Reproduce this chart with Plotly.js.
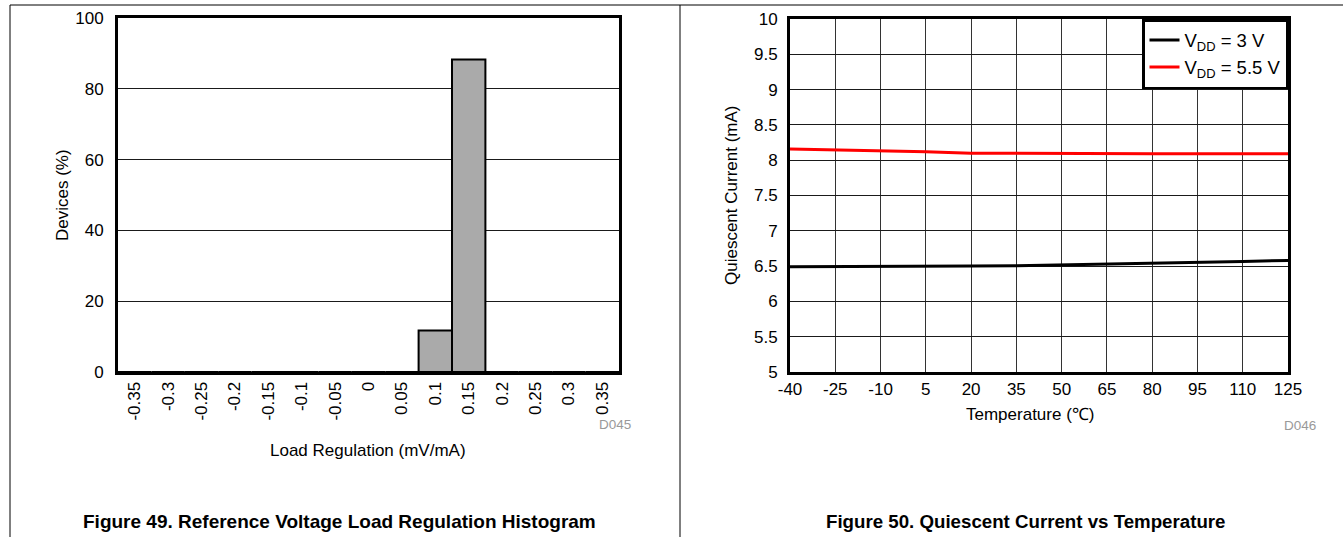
<!DOCTYPE html>
<html>
<head>
<meta charset="utf-8">
<script src="https://cdn.plot.ly/plotly-3.0.1.min.js"></script>
<style>
html,body{margin:0;padding:0;background:#fff;}
#chart{width:1343px;height:537px;}
</style>
</head>
<body>
<div id="chart"></div>
<script>
// ---- Figure 49 data: load regulation histogram ----
const loadRegBins = ["-0.35","-0.3","-0.25","-0.2","-0.15","-0.1","-0.05","0","0.05","0.1","0.15","0.2","0.25","0.3","0.35"];
const devicesPct  = [0,0,0,0,0,0,0,0,0,11.7,88.3,0,0,0,0];

// ---- Figure 50 data: quiescent current vs temperature ----
const temperatureC = [-40,-25,-10,5,20,35,50,65,80,95,110,125];
const iq_vdd3   = [6.49,6.49,6.49,6.495,6.50,6.505,6.515,6.525,6.54,6.55,6.565,6.58];
const iq_vdd5p5 = [8.16,8.15,8.14,8.12,8.10,8.095,8.09,8.09,8.09,8.09,8.09,8.09];
const tempTicks = [-40,-25,-10,5,20,35,50,65,80,95,110,125];
const tempTickLabels = ["-40","-25","-10","5","20","35","50","65","80","95","110","125"];

const W = 1343, H = 537;
const px = x => x / W;
const py = y => 1 - y / H;

const FONT = "Liberation Sans, Arial, sans-serif";
const FS = 17;

const traces = [
  {
    type: "bar", x: loadRegBins, y: devicesPct,
    xaxis: "x", yaxis: "y",
    marker: {color: "#aaaaaa", line: {color: "#000", width: 2}},
    showlegend: false
  },
  {
    type: "scatter", mode: "lines", x: temperatureC, y: iq_vdd3,
    xaxis: "x2", yaxis: "y2",
    name: "V<sub>DD</sub> = 3 V",
    line: {color: "#000", width: 3}
  },
  {
    type: "scatter", mode: "lines", x: temperatureC, y: iq_vdd5p5,
    xaxis: "x2", yaxis: "y2",
    name: "V<sub>DD</sub> = 5.5 V",
    line: {color: "#ff0000", width: 3}
  }
];

const gridCol = "#1a1a1a";
const frame = {showline: true, mirror: true, linecolor: "#000", linewidth: 3, zeroline: false};
const layout = {
  width: W, height: H,
  margin: {l:0, r:0, t:0, b:0},
  paper_bgcolor: "#fff", plot_bgcolor: "#fff",
  font: {family: FONT, size: FS, color: "#000"},
  bargap: 0,
  xaxis: Object.assign({
    domain: [px(118), px(619)], anchor: "y",
    type: "category",
    tickangle: -90, tickfont: {size: FS},
    showgrid: false, ticks: ""
  }, frame),
  xaxis3: {
    overlaying: "x", anchor: "y",
    range: [-0.5, 14.5], tickvals: [-0.5, 14.5],
    ticks: "outside", ticklen: 10, tickwidth: 1, tickcolor: "#555",
    showticklabels: false, showgrid: false, zeroline: false, showline: false
  },
  yaxis: Object.assign({
    domain: [py(372), py(18)], anchor: "x",
    range: [0, 100], dtick: 20,
    showgrid: true, gridcolor: gridCol, gridwidth: 1,
    ticks: "", tickfont: {size: FS}, ticklabelstandoff: 8
  }, frame),
  xaxis2: Object.assign({
    domain: [px(790), px(1288)], anchor: "y2",
    range: [-40, 125], tickvals: tempTicks, ticktext: tempTickLabels,
    showgrid: true, gridcolor: "#333", gridwidth: 1,
    ticks: "", tickfont: {size: FS}
  }, frame),
  yaxis2: Object.assign({
    domain: [py(372), py(19)], anchor: "x2",
    range: [5, 10], dtick: 0.5,
    showgrid: true, gridcolor: gridCol, gridwidth: 1,
    ticks: "", tickfont: {size: FS}, ticklabelstandoff: 6
  }, frame),
  legend: {
    x: px(1288), xanchor: "right", y: py(19), yanchor: "top",
    bgcolor: "#fff", bordercolor: "#000", borderwidth: 2.5,
    font: {family: FONT, size: 18.5, color: "#000"},
    tracegroupgap: 0
  },
  shapes: [
    {type: "line", xref: "paper", yref: "paper", x0: px(10), x1: 1, y0: py(5), y1: py(5), line: {color: "#000", width: 1}},
    {type: "line", xref: "paper", yref: "paper", x0: px(680), x1: px(680), y0: 0, y1: py(5), line: {color: "#000", width: 1}},
    {type: "line", xref: "paper", yref: "paper", x0: px(10), x1: px(10), y0: 0, y1: py(5), line: {color: "#000", width: 1}}
  ],
  annotations: [
    {text: "Devices (%)", x: px(62), y: py(195), textangle: -90},
    {text: "Load Regulation (mV/mA)", x: px(368), y: py(450)},
    {text: "D045", x: px(615), y: py(424), font: {size: 13.5, color: "#999"}},
    {text: "Quiescent Current (mA)", x: px(731), y: py(195), textangle: -90},
    {text: "Temperature (\u2103)", x: px(1030), y: py(414)},
    {text: "D046", x: px(1300), y: py(425), font: {size: 13.5, color: "#999"}},
    {text: "<b>Figure 49. Reference Voltage Load Regulation Histogram</b>", x: px(339), y: py(521), font: {size: 19}},
    {text: "<b>Figure 50. Quiescent Current vs Temperature</b>", x: px(1025), y: py(521), font: {size: 18.7}}
  ].map(a => Object.assign({xref: "paper", yref: "paper", xanchor: "center", yanchor: "middle", showarrow: false}, a))
};

Plotly.newPlot("chart", traces, layout, {displayModeBar: false, staticPlot: true});
</script>
</body>
</html>
